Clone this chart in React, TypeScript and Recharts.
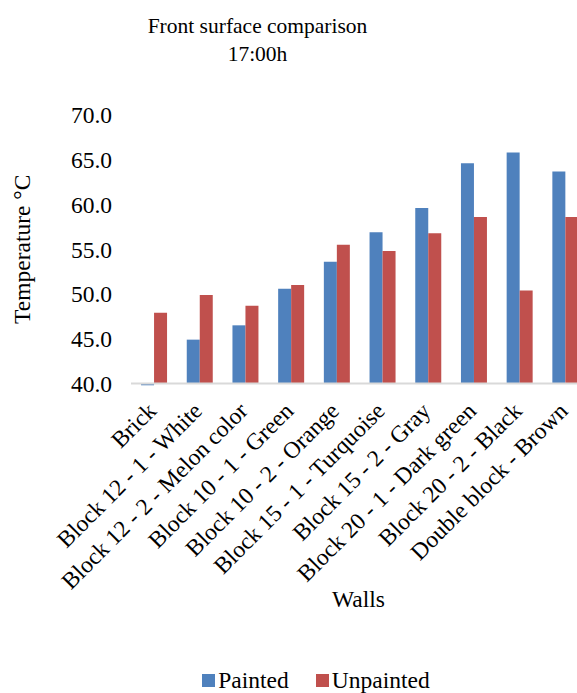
import React from 'react';
import { BarChart, Bar, XAxis, YAxis, Legend } from 'recharts';

const walls = [
  'Brick',
  'Block 12 - 1 - White',
  'Block 12 - 2 - Melon color',
  'Block 10 - 1 - Green',
  'Block 10 - 2 - Orange',
  'Block 15 - 1 - Turquoise',
  'Block 15 - 2 - Gray',
  'Block 20 - 1 - Dark green',
  'Block 20 - 2 - Black',
  'Double block - Brown',
];
const painted = [39.8, 44.9, 46.5, 50.6, 53.6, 56.9, 59.6, 64.6, 65.8, 63.7];
const unpainted = [47.9, 49.9, 48.7, 51.0, 55.5, 54.8, 56.8, 58.6, 50.4, 58.6];
const yTicks = [40, 45, 50, 55, 60, 65, 70];

const data = walls.map((name, i) => ({ name, painted: painted[i], unpainted: unpainted[i] }));

const FONT = '"Liberation Serif", "Times New Roman", serif';
const SIZE = 23.5;
const BLUE = '#4F81BD';
const RED = '#C0504D';

// rotated category label, anchored at its end under the tick
const WallTick = (props: any) => {
  const { x, y, payload } = props;
  return (
    <g transform={`translate(${x - 2},${y + 15})`}>
      <text
        textAnchor="end"
        transform="rotate(-45)"
        fontFamily={FONT}
        fontSize={SIZE}
        fill="#000"
        dy="0.35em"
      >
        {payload.value}
      </text>
    </g>
  );
};

const LegendContent = (props: any) => {
  const { payload } = props;
  return (
    <div
      style={{
        display: 'flex',
        justifyContent: 'center',
        alignItems: 'center',
        paddingLeft: 44,
        paddingTop: 14,
        fontFamily: FONT,
        fontSize: SIZE,
        lineHeight: '26px',
        color: '#000',
      }}
    >
      {payload.map((p: any, i: number) => (
        <div key={p.value} style={{ display: 'flex', alignItems: 'center', marginLeft: i ? 27 : 0 }}>
          <span style={{ display: 'inline-block', width: 13, height: 13, background: p.color, marginRight: 3 }} />
          <span>{p.value}</span>
        </div>
      ))}
    </div>
  );
};

export default function App() {
  return (
    <div style={{ position: 'absolute', left: 0, top: 0, width: 577, height: 693, overflow: 'hidden', background: '#fff' }}>
      {/* let the brick bar that dips under 40 show below the axis */}
      <style>{'.recharts-bar-rectangles{clip-path:none}'}</style>
      <div
        style={{
          position: 'absolute',
          left: 0,
          width: 515,
          top: 12,
          textAlign: 'center',
          fontFamily: FONT,
          fontSize: 21.5,
          lineHeight: '28px',
          color: '#000',
        }}
      >
        Front surface comparison
        <br />
        17:00h
      </div>
      <BarChart
        width={588}
        height={693}
        data={data}
        margin={{ top: 115, right: 0, left: 0, bottom: 0 }}
        barGap={0}
        barCategoryGap="22%"
      >
        <XAxis
          dataKey="name"
          interval={0}
          tick={<WallTick />}
          tickLine={false}
          axisLine={{ stroke: '#D9D9D9', strokeWidth: 2 }}
          height={269.5}
          label={{ value: 'Walls', position: 'insideBottom', offset: 46, dx: -1, style: { fontFamily: FONT, fontSize: SIZE, fill: '#000' } }}
        />
        <YAxis
          domain={[40, 70]}
          ticks={yTicks}
          allowDataOverflow
          width={131}
          tickSize={17}
          tickLine={false}
          axisLine={false}
          tickFormatter={(v: number) => v.toFixed(1)}
          tick={{ fontFamily: FONT, fontSize: SIZE, fill: '#000' }}
          label={{
            value: 'Temperature °C',
            angle: -90,
            position: 'insideLeft',
            offset: 22,
            style: { textAnchor: 'middle', fontFamily: FONT, fontSize: SIZE, fill: '#000' },
          }}
        />
        <Legend verticalAlign="bottom" height={40} content={<LegendContent />} />
        <Bar dataKey="painted" name="Painted" fill={BLUE} isAnimationActive={false} />
        <Bar dataKey="unpainted" name="Unpainted" fill={RED} isAnimationActive={false} />
      </BarChart>
    </div>
  );
}
